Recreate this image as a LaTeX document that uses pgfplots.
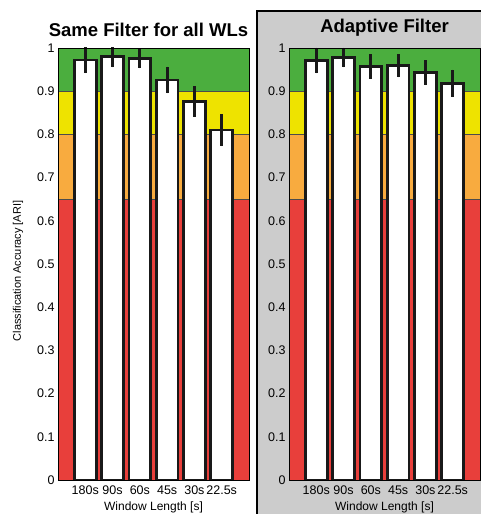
\documentclass[border=0pt]{standalone}
\usepackage{pgfplots}
\pgfplotsset{compat=1.18}
\usepackage{fontspec}
\setmainfont{Liberation Sans}
\definecolor{cred}{HTML}{E83F3B}
\definecolor{corange}{HTML}{F8AB3F}
\definecolor{cyellow}{HTML}{EEE300}
\definecolor{cgreen}{HTML}{4BAE3E}
\definecolor{panelgray}{HTML}{CCCCCC}
\begin{document}
\begin{tikzpicture}[x=1pt,y=1pt]
\useasboundingbox (0,0) rectangle (481,514);
\clip (0,0) rectangle (481,514);
\fill[white] (0,0) rectangle (481,514);
\draw[line width=2.2pt, fill=panelgray] (257,-10) rectangle (495,503);
\pgfplotsset{
  myax/.style={
    width=191pt, height=432pt, scale only axis,
    xmin=0, xmax=7, ymin=0, ymax=1,
    xtick={1,2,3,4,5,6},
    xticklabels={180s,90s,60s,45s,30s,22.5s},
    ytick={0,0.1,0.2,0.3,0.4,0.5,0.6,0.7,0.8,0.9,1},
    yticklabels={0,0.1,0.2,0.3,0.4,0.5,0.6,0.7,0.8,0.9,1},
    major tick length=0pt,
    tick label style={font=\fontsize{12.5}{14}\selectfont},
    xticklabel style={yshift=-2pt},
    axis on top,
    axis line style={line width=0.8pt},
    xlabel={Window Length [s]},
    xlabel style={font=\fontsize{12}{14}\selectfont, yshift=-1pt},
    title style={font=\fontsize{18.5}{21}\selectfont\bfseries, inner sep=2pt, yshift=3pt},
  },
  mybar/.style={ybar, bar width=0.8, fill=white, draw=black!90, line width=2.8pt,
    error bars/.cd, y dir=both, y explicit, error mark=none,
    error bar style={line width=2.8pt, black!90}},
}
\begin{axis}[myax, at={(58pt,34pt)}, anchor=south west,
  title={Same Filter for all WLs},
  title style={xshift=-5pt},
  ylabel={Classification Accuracy [ARI]},
  ylabel style={font=\fontsize{11}{13}\selectfont, at={(axis description cs:-0.209,0.484)}, anchor=center}]
  \fill[cred, draw=black!70, line width=0.6pt] (0,0) rectangle (7,0.65);
  \fill[corange, draw=black!70, line width=0.6pt] (0,0.65) rectangle (7,0.8);
  \fill[cyellow, draw=black!70, line width=0.6pt] (0,0.8) rectangle (7,0.9);
  \fill[cgreen, draw=black!70, line width=0.6pt] (0,0.9) rectangle (7,1);
  \addplot[mybar] coordinates {
    (1,0.972) +- (0,0.030)
    (2,0.980) +- (0,0.025)
    (3,0.976) +- (0,0.023)
    (4,0.926) +- (0,0.031)
    (5,0.876) +- (0,0.035)
    (6,0.810) +- (0,0.037)
  };
\end{axis}
\begin{axis}[myax, at={(289pt,34pt)}, anchor=south west,
  title={Adaptive Filter}]
  \fill[cred, draw=black!70, line width=0.6pt] (0,0) rectangle (7,0.65);
  \fill[corange, draw=black!70, line width=0.6pt] (0,0.65) rectangle (7,0.8);
  \fill[cyellow, draw=black!70, line width=0.6pt] (0,0.8) rectangle (7,0.9);
  \fill[cgreen, draw=black!70, line width=0.6pt] (0,0.9) rectangle (7,1);
  \addplot[mybar] coordinates {
    (1,0.971) +- (0,0.030)
    (2,0.978) +- (0,0.023)
    (3,0.957) +- (0,0.028)
    (4,0.959) +- (0,0.027)
    (5,0.943) +- (0,0.029)
    (6,0.918) +- (0,0.032)
  };
\end{axis}
\end{tikzpicture}
\end{document}
